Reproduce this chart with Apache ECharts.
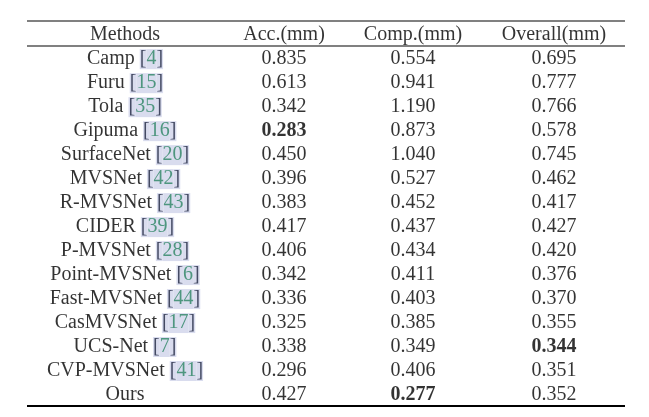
<!DOCTYPE html>
<html>
<head>
<meta charset="utf-8">
<script src="https://cdn.jsdelivr.net/npm/echarts@6/dist/echarts.min.js"></script>
<style>
html,body{margin:0;padding:0;background:#fff;}
#chart{width:649px;height:417px;}
</style>
</head>
<body>
<div id="chart"></div>
<script>
// ---- data ----
var headers = ['Methods', 'Acc.(mm)', 'Comp.(mm)', 'Overall(mm)'];
var methods = ['Camp', 'Furu', 'Tola', 'Gipuma', 'SurfaceNet', 'MVSNet', 'R-MVSNet', 'CIDER', 'P-MVSNet', 'Point-MVSNet', 'Fast-MVSNet', 'CasMVSNet', 'UCS-Net', 'CVP-MVSNet', 'Ours'];
var refs = [4, 15, 35, 16, 20, 42, 43, 39, 28, 6, 44, 17, 7, 41, null];
var acc = [0.835, 0.613, 0.342, 0.283, 0.450, 0.396, 0.383, 0.417, 0.406, 0.342, 0.336, 0.325, 0.338, 0.296, 0.427];
var comp = [0.554, 0.941, 1.190, 0.873, 1.040, 0.527, 0.452, 0.437, 0.434, 0.411, 0.403, 0.385, 0.349, 0.406, 0.277];
var overall = [0.695, 0.777, 0.766, 0.578, 0.745, 0.462, 0.417, 0.427, 0.420, 0.376, 0.370, 0.355, 0.344, 0.351, 0.352];

// ---- layout (not data) ----
var colCenters = [98, 257, 386, 527];   // within table width 598
var HEADER_ROW = -1.02;

var FONT = '"Liberation Serif", "Times New Roman", serif';
var cells = [];

function pushCell(col, row, text) {
  cells.push({ value: [colCenters[col], row], text: text });
}

headers.forEach(function (h, c) { pushCell(c, HEADER_ROW, '{t|' + h + '}'); });

methods.forEach(function (m, r) {
  var t = '{t|' + m + '}';
  if (refs[r] != null) {
    t += '{t| }{br|[}{n|' + refs[r] + '}{br|]}';
  }
  pushCell(0, r, t);
});

[acc, comp, overall].forEach(function (arr, ci) {
  var best = Math.min.apply(null, arr);
  arr.forEach(function (v, r) {
    var s = v.toFixed(3);
    pushCell(ci + 1, r, v === best ? '{bold|' + s + '}' : '{t|' + s + '}');
  });
});

var chart = echarts.init(document.getElementById('chart'), null, { renderer: 'canvas' });
chart.setOption({
  animation: false,
  backgroundColor: '#ffffff',
  grid: { left: 27, right: 24, top: 21, bottom: 11 },
  xAxis: { type: 'value', min: 0, max: 598, show: false },
  yAxis: { type: 'value', min: -1.55, max: 14.5, inverse: true, show: false },
  series: [{
    type: 'scatter',
    silent: true,
    clip: false,
    symbolSize: 1,
    itemStyle: { color: 'rgba(0,0,0,0)' },
    emphasis: { disabled: true },
    data: cells,
    label: {
      show: true,
      position: 'inside',
      align: 'center',
      verticalAlign: 'middle',
      offset: [0, 1],
      color: '#000',
      textBorderWidth: 0,
      fontFamily: FONT,
      fontSize: 20,
      formatter: function (p) { return p.data.text; },
      rich: {
        t: { fontFamily: FONT, fontSize: 20, color: '#000', lineHeight: 20, textBorderWidth: 0 },
        bold: { fontFamily: FONT, fontSize: 20, color: '#000', fontWeight: 'bold', lineHeight: 20, textBorderWidth: 0 },
        br: { fontFamily: FONT, fontSize: 20, color: '#1e2540', backgroundColor: '#cfd3ea', lineHeight: 20, height: 20, textBorderWidth: 0 },
        n: { fontFamily: FONT, fontSize: 20, color: '#2a8463', backgroundColor: '#cfd3ea', lineHeight: 20, height: 20, textBorderWidth: 0 }
      }
    },
    markLine: {
      silent: true,
      symbol: 'none',
      label: { show: false },
      data: [
        { yAxis: -1.55, lineStyle: { color: '#808080', width: 2, type: 'solid' } },
        { yAxis: -0.5, lineStyle: { color: '#808080', width: 2, type: 'solid' } },
        { yAxis: 14.5, lineStyle: { color: '#000000', width: 2, type: 'solid' } }
      ]
    }
  }]
});
</script>
</body>
</html>
